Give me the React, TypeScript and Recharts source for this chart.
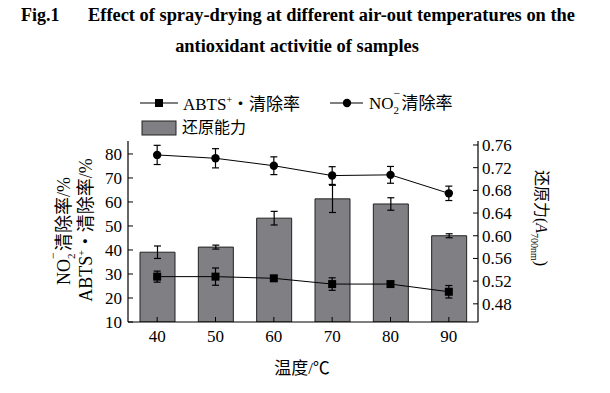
import React from 'react';
import {
  ComposedChart, Bar, Line, XAxis, YAxis, ErrorBar
} from 'recharts';

const temps = ['40', '50', '60', '70', '80', '90'];
const reducing = [0.571, 0.58, 0.631, 0.665, 0.656, 0.6];
const reducingErr = [0.011, 0.0035, 0.012, 0.024, 0.011, 0.0035];
const abts = [28.9, 28.9, 28.2, 25.8, 25.8, 22.6];
const abtsErr = [2.3, 3.6, 0, 2.6, 0, 2.6];
const no2 = [79.6, 78.2, 75.1, 71.0, 71.3, 63.6];
const no2Err = [4, 4, 3.7, 3.7, 3.5, 3];

const leftTicks = [10, 20, 30, 40, 50, 60, 70, 80];
const rightTicks = [0.48, 0.52, 0.56, 0.6, 0.64, 0.68, 0.72, 0.76];

const data = temps.map((t, i) => ({
  temp: t,
  reducing: reducing[i],
  reducingErr: reducingErr[i],
  abts: abts[i],
  abtsErr: abtsErr[i],
  no2: no2[i],
  no2Err: no2Err[i],
}));

const FONT = "'Liberation Serif', 'Noto Sans CJK SC', serif";
const tickStyle = { fill: '#000', fontSize: 17, fontFamily: FONT };

const SquareDot = (props: any) => {
  const { cx, cy } = props;
  if (cx == null || cy == null) return null;
  return <rect x={cx - 4} y={cy - 4} width={8} height={8} fill="#000" />;
};

const CircleDot = (props: any) => {
  const { cx, cy } = props;
  if (cx == null || cy == null) return null;
  return <circle cx={cx} cy={cy} r={4.2} fill="#000" />;
};

const abs = (left: number, top: number, extra: React.CSSProperties = {}): React.CSSProperties => ({
  position: 'absolute', left, top, whiteSpace: 'nowrap', fontFamily: FONT, color: '#000', lineHeight: 1, ...extra,
});

const No2Text = () => (
  <span>
    NO
    <span style={{ position: 'relative', display: 'inline-block', width: 8 }}>
      <span style={{ position: 'absolute', left: 0, top: -8, fontSize: 12 }}>−</span>
      <span style={{ position: 'relative', top: 5, fontSize: 11 }}>2</span>
    </span>
    清除率
  </span>
);

const AbtsText = () => (
  <span>
    ABTS<sup style={{ fontSize: 10, verticalAlign: 7 }}>+</sup>・清除率
  </span>
);

const rotLeft: React.CSSProperties = {
  fontSize: 18, transform: 'translate(-50%, -50%) rotate(-90deg)', transformOrigin: 'center',
};

export default function App() {
  return (
    <div style={{ position: 'absolute', left: 0, top: 0, width: 610, height: 393, background: '#fff' }}>
      <div style={abs(21, 6, { fontSize: 18, fontWeight: 'bold' })}>Fig.1</div>
      <div style={abs(88, 6, { fontSize: 18.4, fontWeight: 'bold' })}>
        Effect of spray-drying at different air-out temperatures on the
      </div>
      <div style={abs(0, 37, { width: 594, textAlign: 'center', fontSize: 18.4, fontWeight: 'bold' })}>
        antioxidant activitie of samples
      </div>

      {/* legend */}
      <svg style={{ position: 'absolute', left: 0, top: 0 }} width={610} height={393}>
        <line x1={140} y1={103} x2={178} y2={103} stroke="#000" strokeWidth={1.2} />
        <rect x={155} y={99} width={8} height={8} fill="#000" />
        <line x1={330} y1={103} x2={363} y2={103} stroke="#000" strokeWidth={1.2} />
        <circle cx={347} cy={103} r={4.2} fill="#000" />
        <rect x={142} y={121} width={34} height={14} fill="#808084" stroke="#222" strokeWidth={1} />
      </svg>
      <div style={abs(183, 95, { fontSize: 17 })}><AbtsText /></div>
      <div style={abs(369, 95, { fontSize: 17 })}><No2Text /></div>
      <div style={abs(182, 120, { fontSize: 16 })}>还原能力</div>

      <div style={{ position: 'absolute', left: 0, top: 0 }}>
        <ComposedChart
          width={610}
          height={393}
          data={data}
          margin={{ top: 141, right: 92, bottom: 41, left: 88 }}
        >
          <XAxis
            dataKey="temp"
            height={30}
            interval={0}
            tick={tickStyle}
            tickSize={-5}
            tickMargin={13}
            axisLine={{ stroke: '#000', strokeWidth: 1.2 }}
            tickLine={{ stroke: '#000' }}
          />
          <YAxis
            yAxisId="left"
            width={40}
            domain={[10, 85.4]}
            ticks={leftTicks}
            interval={0}
            allowDataOverflow
            tick={tickStyle}
            tickSize={-5}
            tickMargin={11}
            axisLine={{ stroke: '#000', strokeWidth: 1.2 }}
            tickLine={{ stroke: '#000' }}
          />
          <YAxis
            yAxisId="right"
            orientation="right"
            width={40}
            domain={[0.448, 0.767]}
            ticks={rightTicks}
            interval={0}
            allowDataOverflow
            tickFormatter={(v: number) => v.toFixed(2)}
            tick={tickStyle}
            tickSize={-5}
            tickMargin={9}
            axisLine={{ stroke: '#000', strokeWidth: 1.2 }}
            tickLine={{ stroke: '#000' }}
          />
          <Bar
            yAxisId="right"
            dataKey="reducing"
            barSize={35}
            fill="#808084"
            stroke="#222"
            strokeWidth={1}
            isAnimationActive={false}
          >
            <ErrorBar dataKey="reducingErr" width={3.5} stroke="#000" strokeWidth={1.2} direction="y" />
          </Bar>
          <Line
            yAxisId="left"
            type="linear"
            dataKey="abts"
            stroke="#000"
            strokeWidth={1}
            dot={<SquareDot />}
            activeDot={false}
            isAnimationActive={false}
          >
            <ErrorBar dataKey="abtsErr" width={3.5} stroke="#000" strokeWidth={1.2} direction="y" />
          </Line>
          <Line
            yAxisId="left"
            type="linear"
            dataKey="no2"
            stroke="#000"
            strokeWidth={1}
            dot={<CircleDot />}
            activeDot={false}
            isAnimationActive={false}
          >
            <ErrorBar dataKey="no2Err" width={3.5} stroke="#000" strokeWidth={1.2} direction="y" />
          </Line>
        </ComposedChart>
      </div>

      {/* axis titles */}
      <div style={abs(64, 231, rotLeft)}>
        <No2Text />/%
      </div>
      <div style={abs(86, 230, rotLeft)}>
        <AbtsText />/%
      </div>
      <div style={abs(539, 218, { fontSize: 16, transform: 'translate(-50%, -50%) rotate(90deg)', transformOrigin: 'center' })}>
        还原力(<i>A</i><sub style={{ fontSize: 10 }}>700nm</sub>)
      </div>
      <div style={abs(302, 368, { fontSize: 17, transform: 'translate(-50%, -50%)' })}>温度/℃</div>
    </div>
  );
}
